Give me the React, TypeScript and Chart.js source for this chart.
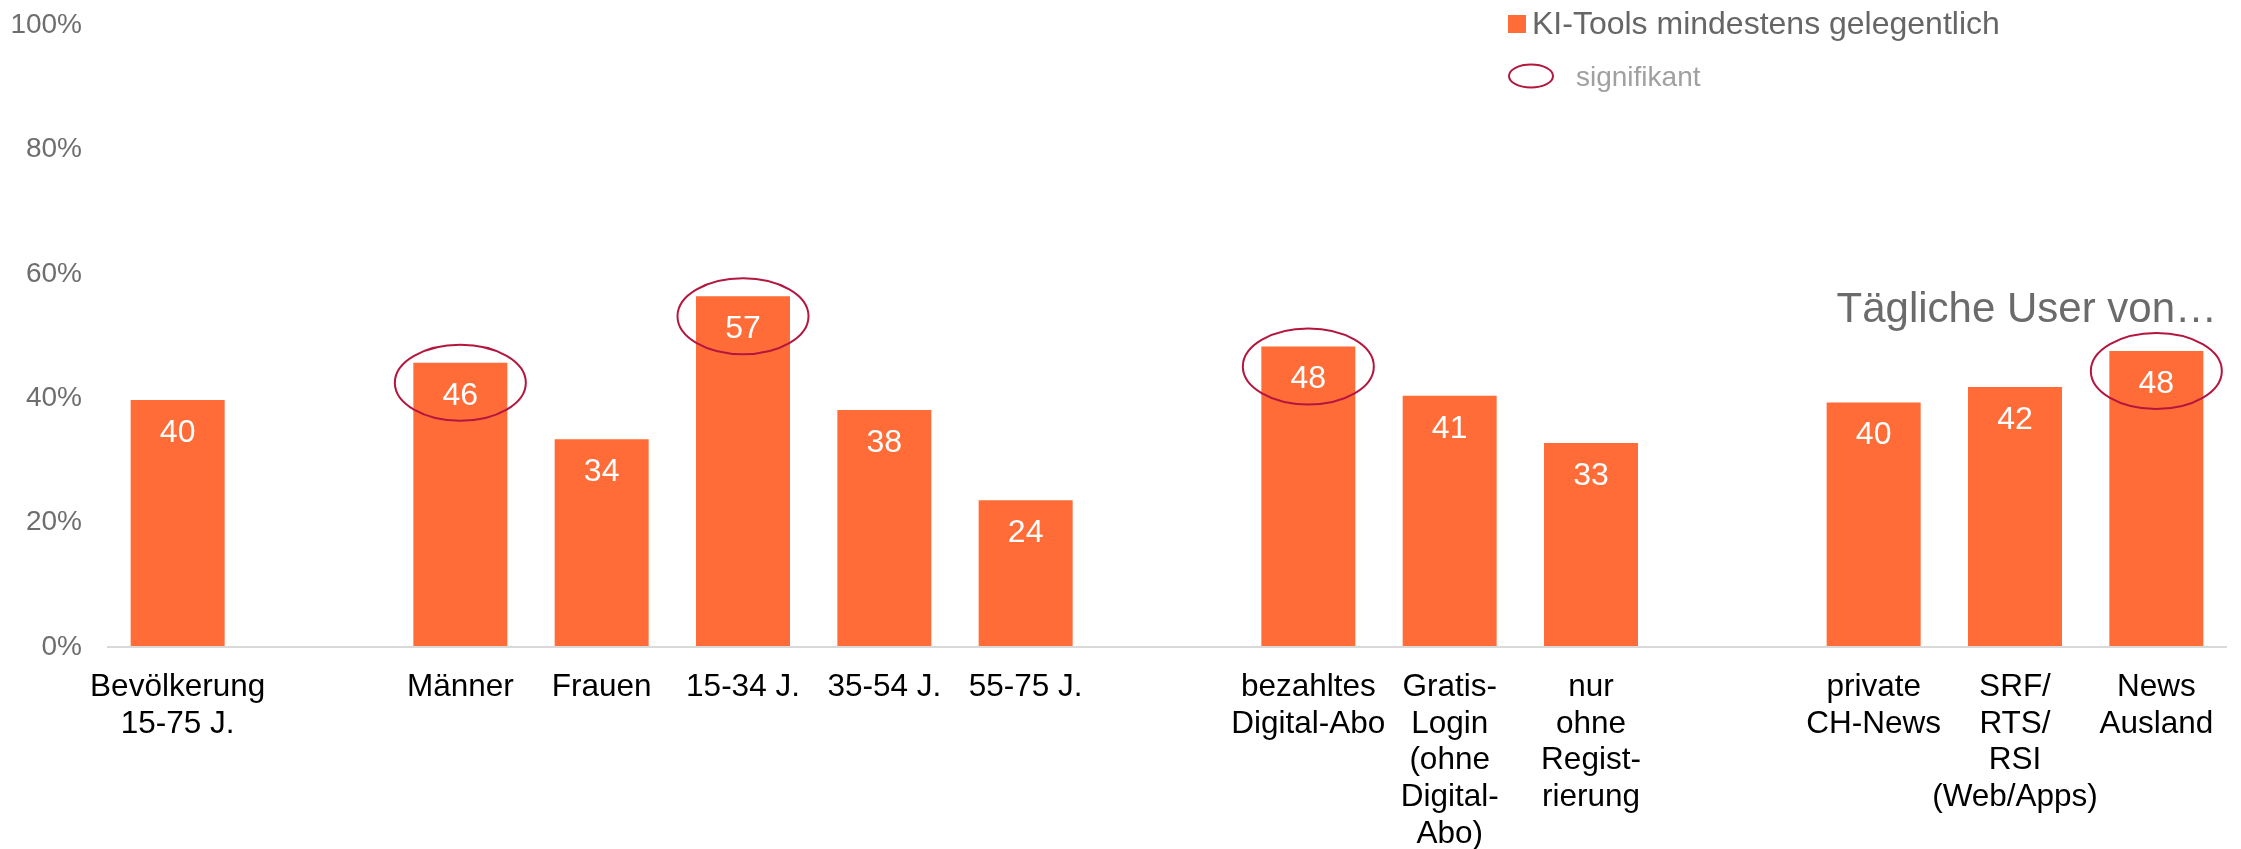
import React, { useEffect, useRef } from "react";
import { Chart, registerables } from "chart.js";

Chart.register(...registerables);

const categories: (string | string[])[] = [
  ["Bevölkerung", "15-75 J."],
  "",
  "Männer",
  "Frauen",
  "15-34 J.",
  "35-54 J.",
  "55-75 J.",
  "",
  ["bezahltes", "Digital-Abo"],
  ["Gratis-", "Login", "(ohne", "Digital-", "Abo)"],
  ["nur", "ohne", "Regist-", "rierung"],
  "",
  ["private", "CH-News"],
  ["SRF/", "RTS/", "RSI", "(Web/Apps)"],
  ["News", "Ausland"],
];

const values: (number | null)[] = [
  39.7, null, 45.7, 33.4, 56.4, 38.1, 23.6, null, 48.3, 40.4, 32.8, null, 39.3, 41.8, 47.6,
];

const valueLabels: string[] = [
  "40", "", "46", "34", "57", "38", "24", "", "48", "41", "33", "", "40", "42", "48",
];

const significant: boolean[] = [
  false, false, true, false, true, false, false, false, true, false, false, false, false, false, true,
];

const yTickStep = 20;
const yMax = 100;

const seriesName = "KI-Tools mindestens gelegentlich";
const significantLabel = "signifikant";
const groupLabel = "Tägliche User von…";

const FONT = '"Liberation Sans", Arial, sans-serif';
const ORANGE = "#FF6C37";
const CRIMSON = "#B3163F";

const overlayPlugin = {
  id: "overlay",
  afterDatasetsDraw(chart: any) {
    const ctx = chart.ctx;
    const meta = chart.getDatasetMeta(0);
    ctx.save();
    ctx.fillStyle = "#FFFFFF";
    ctx.font = `32px ${FONT}`;
    ctx.textAlign = "center";
    ctx.textBaseline = "middle";
    meta.data.forEach((el: any, i: number) => {
      if (values[i] == null) return;
      ctx.fillText(valueLabels[i], el.x, el.y + 33);
    });
    ctx.strokeStyle = CRIMSON;
    ctx.lineWidth = 2;
    meta.data.forEach((el: any, i: number) => {
      if (values[i] == null || !significant[i]) return;
      ctx.beginPath();
      ctx.ellipse(el.x, el.y + 20, 65.5, 38, 0, 0, Math.PI * 2);
      ctx.stroke();
    });
    ctx.restore();
  },
  afterDraw(chart: any) {
    const ctx = chart.ctx;
    const area = chart.chartArea;
    ctx.save();
    // legend
    ctx.fillStyle = ORANGE;
    ctx.fillRect(1508, 15, 18, 18);
    ctx.fillStyle = "#666666";
    ctx.font = `32px ${FONT}`;
    ctx.textAlign = "left";
    ctx.textBaseline = "alphabetic";
    ctx.fillText(seriesName, 1532, 34);
    ctx.strokeStyle = CRIMSON;
    ctx.lineWidth = 2;
    ctx.beginPath();
    ctx.ellipse(1531, 76, 22, 11.5, 0, 0, Math.PI * 2);
    ctx.stroke();
    ctx.fillStyle = "#A0A0A0";
    ctx.font = `28px ${FONT}`;
    ctx.fillText(significantLabel, 1576, 86);
    // group label
    ctx.fillStyle = "#6B6B6B";
    ctx.font = `42px ${FONT}`;
    ctx.textAlign = "right";
    ctx.fillText(groupLabel, area.right - 10, 322);
    ctx.restore();
  },
};

export default function App() {
  const ref = useRef<HTMLCanvasElement | null>(null);

  useEffect(() => {
    if (!ref.current) return;
    const chart = new Chart(ref.current, {
      type: "bar",
      data: {
        labels: categories,
        datasets: [
          {
            label: seriesName,
            data: values,
            backgroundColor: ORANGE,
            borderWidth: 0,
            barPercentage: 0.665,
            categoryPercentage: 1,
          },
        ],
      },
      options: {
        responsive: false,
        animation: false,
        devicePixelRatio: 1,
        layout: { padding: { left: 0, right: 14, top: 25, bottom: 0 } },
        plugins: {
          legend: { display: false },
          tooltip: { enabled: false },
        },
        scales: {
          x: {
            grid: { display: false, drawTicks: false },
            border: { display: false },
            ticks: {
              autoSkip: false,
              maxRotation: 0,
              minRotation: 0,
              padding: 22,
              color: "#000000",
              font: { family: FONT, size: 31.5, lineHeight: 1.165 },
            },
            afterFit(scale: any) {
              scale.height = 202;
              scale.paddingLeft = 0;
              scale.paddingRight = 0;
            },
          },
          y: {
            min: 0,
            max: yMax,
            grid: {
              drawTicks: false,
              lineWidth: 2,
              color: (c: any) => (c.tick && c.tick.value === 0 ? "#D9D9D9" : "rgba(0,0,0,0)"),
            },
            border: { display: false },
            ticks: {
              stepSize: yTickStep,
              padding: 25,
              color: "#6E6E6E",
              font: { family: FONT, size: 28 },
              callback: (v: any) => `${v}%`,
            },
            afterFit(scale: any) {
              scale.width = 107;
              scale.paddingTop = 0;
              scale.paddingBottom = 0;
            },
          },
        },
      },
      plugins: [overlayPlugin],
    });
    return () => chart.destroy();
  }, []);

  return (
    <div style={{ position: "absolute", left: 0, top: 0, width: 2241, height: 849, background: "#FFFFFF" }}>
      <canvas ref={ref} width={2241} height={849} style={{ display: "block", width: 2241, height: 849 }} />
    </div>
  );
}
